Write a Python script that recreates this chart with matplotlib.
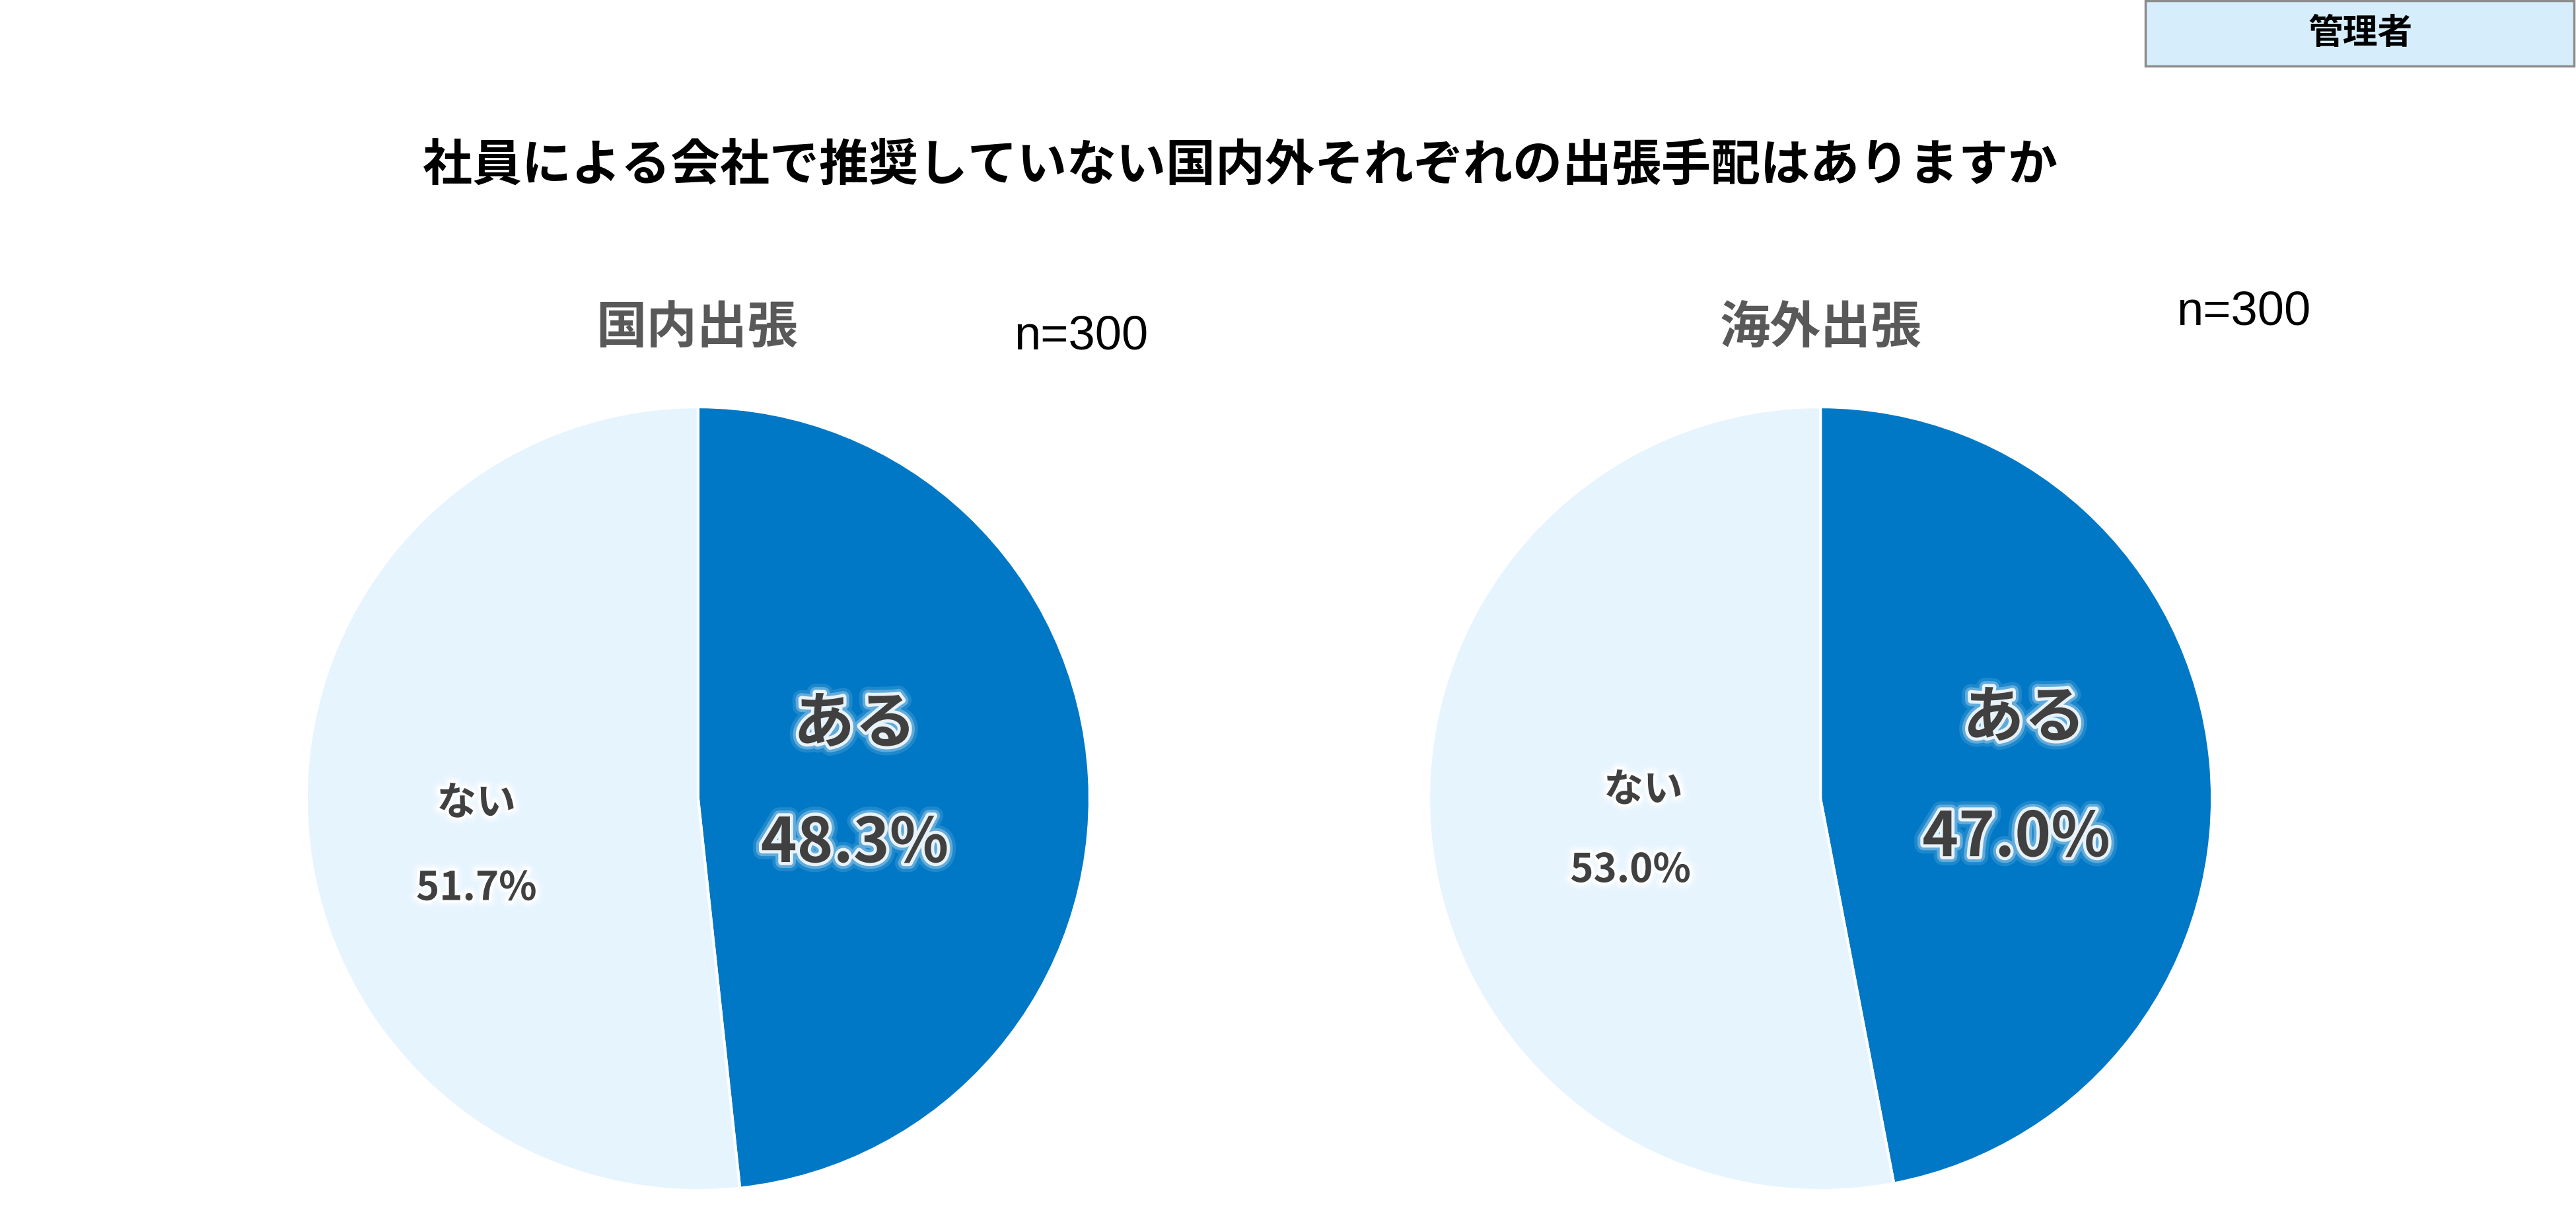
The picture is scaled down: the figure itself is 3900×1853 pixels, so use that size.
import matplotlib.pyplot as plt
import matplotlib.patheffects as pe
from matplotlib.patches import Rectangle

plt.rcParams['font.family'] = ['Noto Sans CJK JP', 'DejaVu Sans']

title = '社員による会社で推奨していない国内外それぞれの出張手配はありますか'
badge = '管理者'
pie_titles = ['国内出張', '海外出張']
n_labels = ['n=300', 'n=300']
categories = ['ある', 'ない']
values = [[48.3, 51.7], [47.0, 53.0]]
colors = ['#0078C6', '#E6F4FE']

# layout (figure fractions / offsets in pie units)
pie_centers = [(0.271, 0.3475), (0.7067, 0.3475)]
pie_w, pie_h = 2 * 593 / 3900, 2 * 593 / 1853
title_pos = [(0.2705, 0.732), (0.7067, 0.732)]
n_pos = [(0.4197, 0.7248), (0.871, 0.7448)]
# (name_x, name_y, pct_x, pct_y) for ある and ない
label_pos = [
    [(0.40, 0.19, 0.40, -0.115), (-0.566, -0.013, -0.566, -0.23)],
    [(0.52, 0.205, 0.50, -0.10), (-0.452, 0.021, -0.485, -0.184)],
]

glow = [pe.Stroke(linewidth=20, foreground='white', alpha=0.12),
        pe.Stroke(linewidth=13, foreground='white', alpha=0.3),
        pe.Stroke(linewidth=7, foreground='white', alpha=0.85),
        pe.Normal()]

fig = plt.figure(figsize=(39, 18.53), dpi=100)

fig.text(0.4815, 0.8645, title, ha='center', va='center',
         fontsize=54, fontweight='bold', color='black')

# badge at top right
fig.add_artist(Rectangle((0.8328, 0.946), 0.1665, 0.0535, transform=fig.transFigure,
                         facecolor='#D6EEFC', edgecolor='#8C8C8C', linewidth=2.5))
fig.text(0.9164, 0.973, badge, ha='center', va='center',
         fontsize=38, fontweight='bold', color='black')

for i in range(2):
    cx, cy = pie_centers[i]
    ax = fig.add_axes([cx - pie_w / 2, cy - pie_h / 2, pie_w, pie_h])
    ax.pie(values[i], colors=colors, startangle=90, counterclock=False,
           wedgeprops=dict(edgecolor='white', linewidth=3))
    ax.set_xlim(-1, 1)
    ax.set_ylim(-1, 1)
    ax.axis('off')

    fig.text(title_pos[i][0], title_pos[i][1], pie_titles[i], ha='center', va='center',
             fontsize=55, fontweight='bold', color='#595959')
    fig.text(n_pos[i][0], n_pos[i][1], n_labels[i], ha='center', va='center',
             fontsize=52, color='black', family=['Liberation Sans', 'DejaVu Sans'])

    for j, cat in enumerate(categories):
        nx, ny, px, py = label_pos[i][j]
        size = 67 if j == 0 else 43
        ax.text(nx, ny, cat, ha='center', va='center', fontsize=size,
                fontweight='bold', color='#404040', path_effects=glow)
        ax.text(px, py, f'{values[i][j]:.1f}%', ha='center', va='center', fontsize=size,
                fontweight='bold', color='#404040', path_effects=glow)

fig.savefig('out.png', dpi=100)
